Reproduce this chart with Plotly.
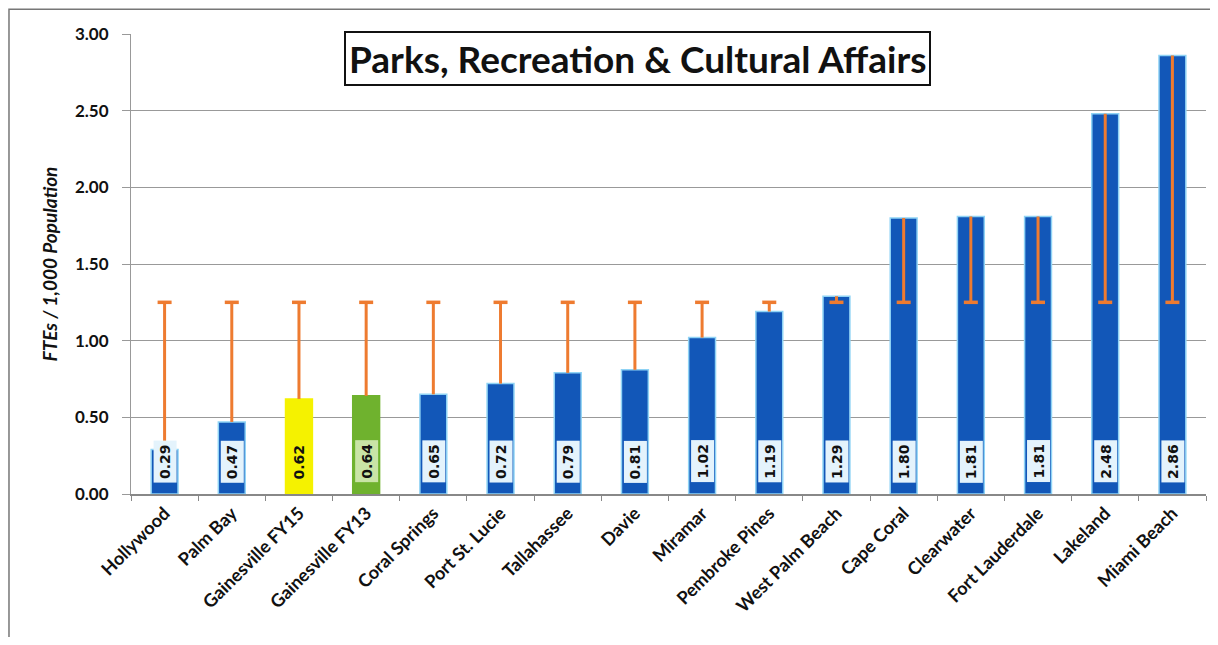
import plotly.graph_objects as go

cities = ["Hollywood", "Palm Bay", "Gainesville FY15", "Gainesville FY13", "Coral Springs",
          "Port St. Lucie", "Tallahassee", "Davie", "Miramar", "Pembroke Pines",
          "West Palm Beach", "Cape Coral", "Clearwater", "Fort Lauderdale", "Lakeland", "Miami Beach"]
ftes = [0.29, 0.47, 0.62, 0.64, 0.65, 0.72, 0.79, 0.81, 1.02, 1.19,
        1.29, 1.80, 1.81, 1.81, 2.48, 2.86]
average = 1.25
bar_colors = ["#1257B8"] * 16
bar_colors[2] = "#F5F200"
bar_colors[3] = "#6FB22E"
label_bg = ["#E4F3FC"] * 16
label_bg[2] = "rgba(0,0,0,0)"
label_bg[3] = "#C9E4A6"
edge_colors = ["#8FD3F5"] * 16
edge_colors[2] = "#F5F200"
edge_colors[3] = "#6FB22E"

avg_vals = [average] * len(cities)
err_plus = [max(v - average, 0) for v in ftes]
err_minus = [max(average - v, 0) for v in ftes]

fig = go.Figure()
fig.add_trace(go.Bar(
    x=cities, y=ftes,
    marker=dict(color=bar_colors, line=dict(color=edge_colors, width=1.5)),
    hoverinfo="x+y", showlegend=False,
))
fig.add_trace(go.Scatter(
    x=cities, y=avg_vals, mode="markers",
    marker=dict(symbol="line-ew", size=10, line=dict(color="#EE7B30", width=3.5)),
    error_y=dict(type="data", symmetric=False, array=err_plus, arrayminus=err_minus,
                 color="#EE7B30", thickness=3, width=0),
    showlegend=False, hoverinfo="skip",
))

for c, v, bg in zip(cities, ftes, label_bg):
    fig.add_annotation(
        x=c, y=0, xref="x", yref="y", text="<b>%.2f</b>" % v,
        textangle=-90, showarrow=False, yanchor="bottom", xanchor="center", yshift=11,
        font=dict(family="DejaVu Sans", size=14, color="#111111"),
        bgcolor=bg, borderpad=3,
    )

fig.add_annotation(
    x=0.4716, y=0.9457, xref="paper", yref="paper", xanchor="center", yanchor="middle",
    text="<b>Parks, Recreation & Cultural Affairs</b>", showarrow=False,
    font=dict(family="Lato", size=37, color="#111111"),
    bordercolor="#111111", borderwidth=2, borderpad=3, bgcolor="white",
)

fig.add_shape(type="rect", xref="paper", yref="paper",
              x0=-0.1135, x1=1.03, y0=-0.4, y1=1.054,
              line=dict(color="#777777", width=1.5), layer="below")

# page body has an 8px margin; figure origin sits at (8, 8) in the window
fig.update_layout(
    width=1202, height=629,
    margin=dict(l=123, r=4, t=26, b=143),
    paper_bgcolor="white", plot_bgcolor="white",
    bargap=0.6,
    font=dict(family="Lato", color="#111111"),
)
fig.update_xaxes(
    type="category", range=[-0.5, len(cities) - 0.5], tickangle=-45, showgrid=False,
    showline=True, linecolor="#888888", linewidth=1.5,
    ticks="outside", tickson="boundaries", ticklen=5, tickcolor="#888888",
    tickfont=dict(family="Lato", size=18, color="#111111", weight="bold"),
)
fig.update_yaxes(
    range=[0, 3], dtick=0.5, tickformat=".2f",
    showgrid=True, gridcolor="#999999", gridwidth=1,
    showline=True, linecolor="#999999", linewidth=1,
    ticks="outside", ticklen=8, tickcolor="#999999", ticklabelstandoff=10,
    tickfont=dict(family="Lato", size=17, color="#111111", weight="bold"),
    title=dict(text="<b><i>FTEs / 1,000 Population</i></b>", standoff=12,
               font=dict(family="Lato", size=19, color="#111111")),
    zeroline=False,
)

fig.write_html("out.html")
